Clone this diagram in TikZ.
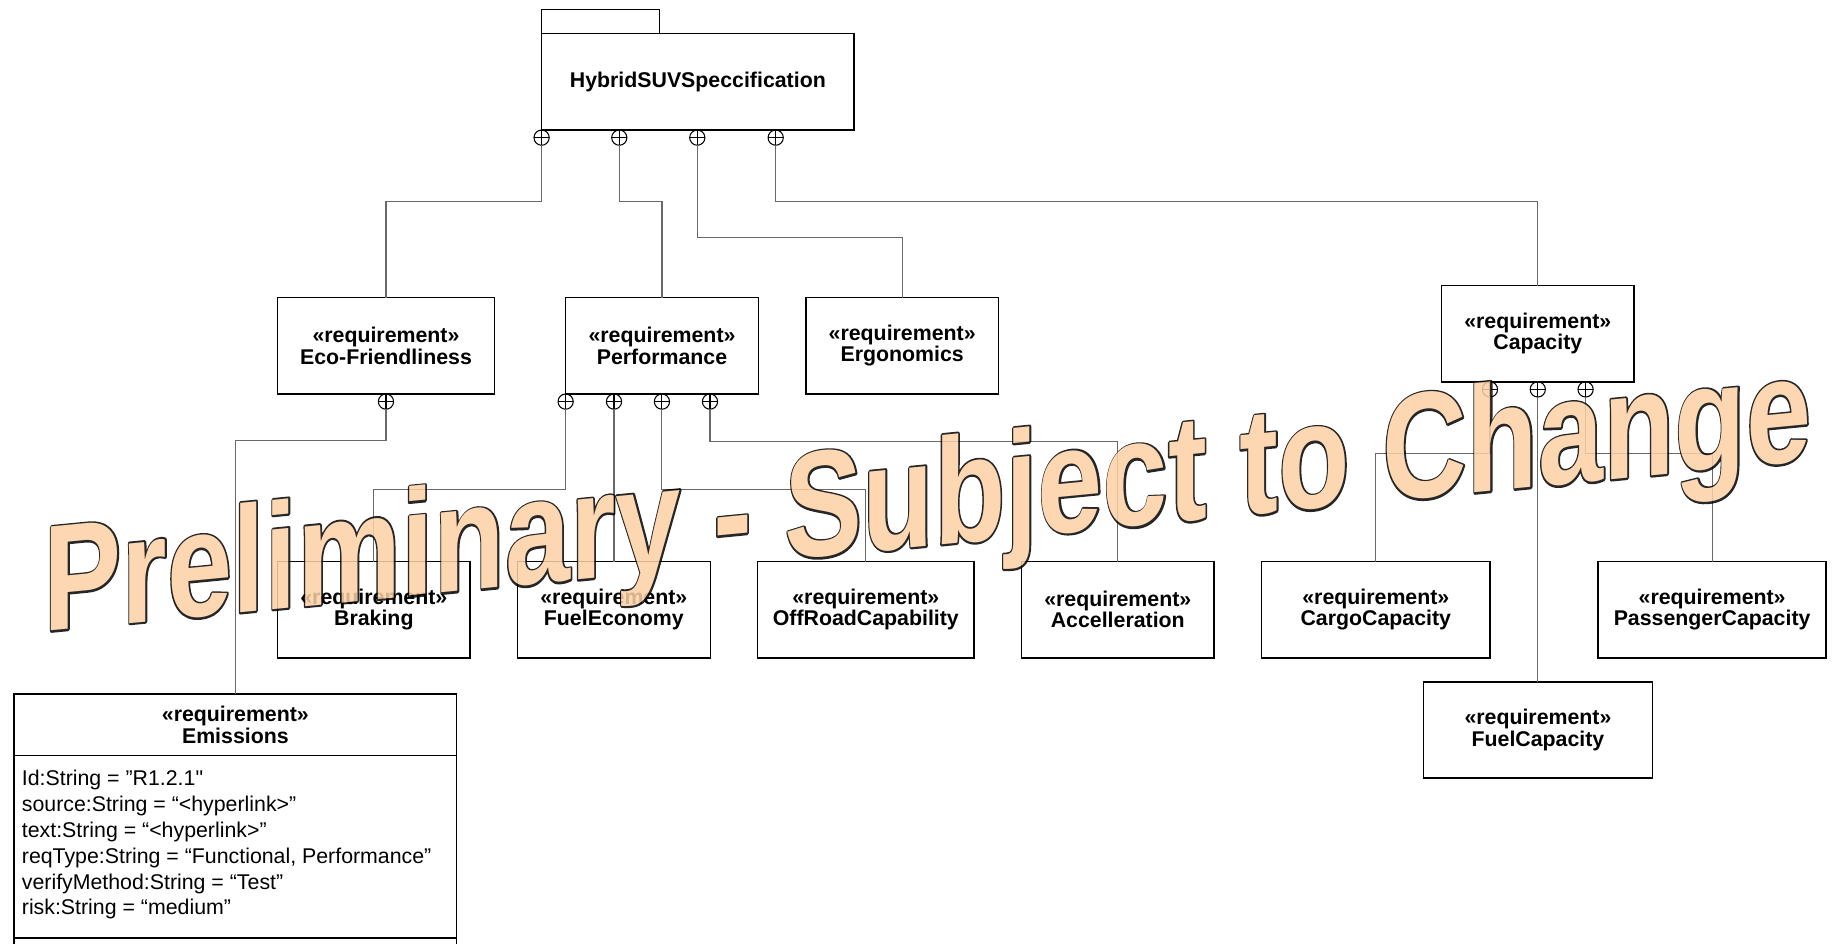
\documentclass[tikz,border=0pt]{standalone}
\usepackage{fontspec}
\setmainfont{Liberation Sans}[Ligatures=TeXOff]
\usetikzlibrary{calc}

\definecolor{connector}{RGB}{105,105,105}
\definecolor{wmfill}{RGB}{251,208,165}

\newcommand\reqfont{\fontsize{18.2pt}{18pt}\selectfont\bfseries}
\newcommand\attrfont{\fontsize{18.2pt}{22pt}\selectfont}
\newcommand\wmfont{\fontsize{128.8pt}{130pt}\selectfont\bfseries}
% a black stroked copy of the glyphs underneath, the filled glyphs on top
\newcommand\outlinedtext[1]{\rlap{\special{pdf:literal direct 0 0 0 RG 3.4 w 1 j 1 Tr}#1\special{pdf:literal direct 0 Tr}}#1}

\tikzset{
  box/.style={draw=black, line width=1.3pt, inner sep=0pt, outer sep=0pt,
    align=center, font=\reqfont},
  req/.style={box, minimum height=82.2pt},
  conn/.style={draw=connector, line width=0.9pt},
  lolly/.style={circle, draw=black, line width=0.9pt, minimum size=13pt,
    inner sep=0pt, outer sep=0pt,
    path picture={\draw[line width=0.9pt]
      (path picture bounding box.north) -- (path picture bounding box.south)
      (path picture bounding box.west) -- (path picture bounding box.east);}},
  wmtext/.style={transform shape, anchor=base west, inner sep=0pt,
    outer sep=0pt, font=\wmfont},
}

\begin{document}
\begin{tikzpicture}[x=1pt, y=-1pt]
\useasboundingbox (0,0) rectangle (1568,805);

% package
\node[box, minimum width=100.5pt, minimum height=20.7pt, anchor=south west]
  (tab) at (462.3,28.7) {};
\node[box, minimum width=266.7pt, minimum height=82.3pt]
  (suv) at (595.65,69.85) {HybridSUVSpeccification};

% first level requirements
\node[req, minimum width=184.9pt] (eco)  at (329.45,295.2) {«requirement»\\Eco-Friendliness};
\node[req, minimum width=164.5pt] (perf) at (565.05,295.2) {«requirement»\\Performance};
\node[req, minimum width=164.1pt] (ergo) at (770.05,295.2) {«requirement»\\Ergonomics};
\node[req, minimum width=164.2pt] (cap)  at (1312.6,284.8) {«requirement»\\Capacity};

% second level requirements
\node[req, minimum width=164.2pt] (braking)   at (319.1,520.4)   {«requirement»\\Braking};
\node[req, minimum width=164.7pt] (fueleco)   at (523.95,520.4)  {«requirement»\\FuelEconomy};
\node[req, minimum width=184.7pt] (offroad)   at (739.05,520.4)  {«requirement»\\OffRoadCapability};
\node[req, minimum width=164.2pt] (accel)     at (954.1,520.4)   {«requirement»\\Accelleration};
\node[req, minimum width=194.9pt] (cargo)     at (1174.35,520.4) {«requirement»\\CargoCapacity};
\node[req, minimum width=194.4pt] (passenger) at (1461.4,520.4)  {«requirement»\\PassengerCapacity};
\node[req, minimum width=195.1pt] (fuelcap)   at (1312.75,623.1) {«requirement»\\FuelCapacity};

% Emissions with its compartments
\node[box, minimum width=377.8pt, minimum height=52.6pt, anchor=north west]
  (emis) at (12,592.4) {«requirement»\\Emissions};
\node[anchor=north west, align=left, inner sep=0pt, font=\attrfont]
  (attrs) at (18.5,657.5) {Id:String = ”R1.2.1"\\
    source:String = “<hyperlink>”\\
    text:String = “<hyperlink>”\\
    reqType:String = “Functional, Performance”\\
    verifyMethod:String = “Test”\\
    risk:String = “medium”};
\draw[line width=1.3pt] (emis.south west) -- ++(0,230)
  (emis.south east) -- ++(0,230);
\draw[line width=1.3pt] ($(emis.south west)+(0,155.5)$) -- ($(emis.south east)+(0,155.5)$);

% containment ends
\node[lolly] (s1) at ($(suv.south west)+(0,6.5)$) {};
\node[lolly] (s2) at ($(suv.south west)+(66.3,6.5)$) {};
\node[lolly] (s3) at ($(suv.south west)+(132.9,6.5)$) {};
\node[lolly] (s4) at ($(suv.south west)+(199.8,6.5)$) {};
\node[lolly] (e1) at ($(eco.south)+(0,6.5)$) {};
\node[lolly] (p1) at ($(perf.south west)+(0,6.5)$) {};
\node[lolly] (p2) at ($(perf.south west)+(41.3,6.5)$) {};
\node[lolly] (p3) at ($(perf.south west)+(82.2,6.5)$) {};
\node[lolly] (p4) at ($(perf.south west)+(123.2,6.5)$) {};
\node[lolly] (c1) at ($(cap.south)+(-40.8,6.5)$) {};
\node[lolly] (c2) at ($(cap.south)+(0,6.5)$) {};
\node[lolly] (c3) at ($(cap.south)+(40.8,6.5)$) {};

% containment connectors
\draw[conn] (s1.south) |- (eco.north |- 0,172) -- (eco.north);
\draw[conn] (s2.south) |- (perf.north |- 0,172) -- (perf.north);
\draw[conn] (s3.south) |- (ergo.north |- 0,203) -- (ergo.north);
\draw[conn] (s4.south) |- (cap.north |- 0,172) -- (cap.north);
\draw[conn] (e1.south) |- (emis.north |- 0,375.6) -- (emis.north);
\draw[conn] (p1.south) |- (braking.north |- 0,418.2) -- (braking.north);
\draw[conn] (p2.south) -- (p2.south |- fueleco.north);
\draw[conn] (p3.south) |- (offroad.north |- 0,418.2) -- (offroad.north);
\draw[conn] (p4.south) |- (accel.north |- 0,377) -- (accel.north);
\draw[conn] (c1.south) |- (cargo.north |- 0,387.2) -- (cargo.north);
\draw[conn] (c2.south) -- (c2.south |- fuelcap.north);
\draw[conn] (c3.south) |- (passenger.north |- 0,387.2) -- (passenger.north);

% watermark: outlined, slanted lettering laid over the diagram
\begin{scope}[shift={(37.3,539.1)}, yslant=0.097, xscale=0.775,
    transparency group, opacity=0.85]
  \node[wmtext, text=wmfill] (watermark) at (0,0)
    {\outlinedtext{Preliminary - Subject to Change}};
\end{scope}
\end{tikzpicture}
\end{document}
